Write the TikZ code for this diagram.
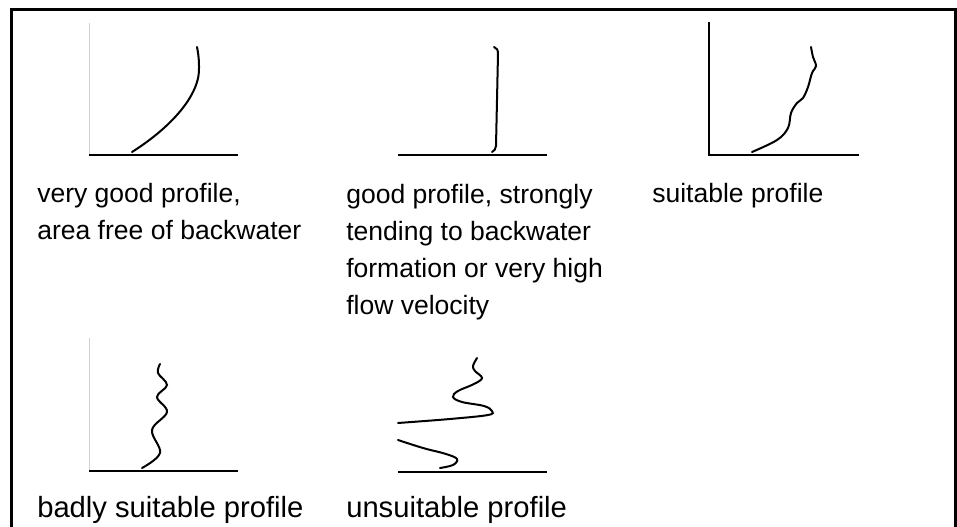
\documentclass[tikz,border=0pt]{standalone}
\usepackage{fontspec}
\setmainfont{Liberation Sans}
\usetikzlibrary{positioning}

\begin{document}
\begin{tikzpicture}[x=0.75pt, y=-0.75pt,
    axis/.style={line width=1.5pt},
    faint/.style={draw=black!18, line width=0.75pt},
    profile/.style={line width=1.5pt, line cap=round},
    lbl/.style={anchor=north west, inner sep=0pt, align=left, font=\fontsize{19.9}{27.75}\selectfont},
    biglbl/.style={lbl, font=\fontsize{21.9}{27.75}\selectfont}]
    \useasboundingbox (0,0) rectangle (957,527);
    \clip (0,0) rectangle (957,527);
    \draw[line width=2.25pt] (11,10) rectangle (955.5,560);

    % axes
    \coordinate (o1) at (89,155);
    \coordinate (o2) at (398,155);
    \coordinate (o3) at (709,155);
    \coordinate (o4) at (89,471);
    \coordinate (o5) at (398,472);
    \draw[faint] (o1) -- ++(0,-132);
    \draw[axis] (o1) -- ++(149,0);
    \draw[axis] (o2) -- ++(149,0);
    \draw[axis] (o3) ++(0,-133) -- (o3) -- ++(150,0);
    \draw[faint] (o4) -- ++(0,-133);
    \draw[axis] (o4) -- ++(149,0);
    \draw[axis] (o5) -- ++(149,0);

    % profiles
    \draw[profile] (132,152) .. controls (170,128) and (201,95) .. (199,66)
        .. controls (199,58) and (198,52) .. (197,47);
    \draw[profile] (494,47) .. controls (497,48) and (498,50) .. (498,54)
        -- (496,146) .. controls (496,149) and (494,151) .. (492,152);
    \draw[profile] plot[smooth, tension=0.6] coordinates {(752,152) (777,140) (788,128) (791,113)
        (797,103) (803,98) (808,87) (812,73) (816,66) (813,57) (811,47)};
    \draw[profile] plot[smooth, tension=0.6] coordinates {(142,468) (160,453) (152,430) (167,412)
        (157,397) (167,385) (158,373) (160,364)};
    \draw[profile] plot[smooth, tension=0.6] coordinates {(398,423) (450,419) (488,415) (492,411)
        (484,406) (462,402) (453,397) (458,391) (474,384) (482,378) (475,371) (473,366) (477,358)};
    \draw[profile] plot[smooth, tension=0.6] coordinates {(398,440) (423,448) (446,454) (457,459)
        (453,465) (440,468)};

    % labels
    \node[lbl] (vgood) at (37,182.6) {very good profile,\\area free of backwater};
    \node[lbl] (good) at (346,183.6) {good profile, strongly\\tending to backwater\\formation or very high\\flow velocity};
    \node[lbl] (suit) at (652,182.6) {suitable profile};
    \node[biglbl] (bad) at (37,495.7) {badly suitable profile};
    \node[biglbl] (unsuit) at (346,495.7) {unsuitable profile};
\end{tikzpicture}
\end{document}
